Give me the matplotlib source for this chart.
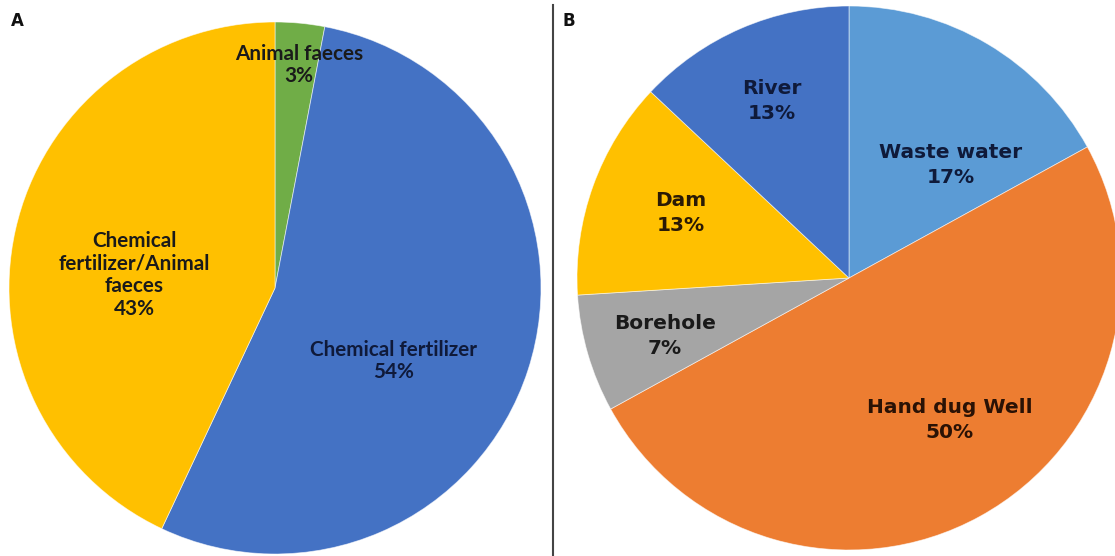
import matplotlib
matplotlib.use("Agg")
import matplotlib.pyplot as plt
from matplotlib.lines import Line2D

# ---- data ----
a_labels = ["Animal faeces", "Chemical fertilizer", "Chemical\nfertilizer/Animal\nfaeces"]
a_values = [3, 54, 43]
b_labels = ["Waste water", "Hand dug Well", "Borehole", "Dam", "River"]
b_values = [17, 50, 7, 13, 13]

# ---- style / layout ----
a_colors = ["#70AD47", "#4472C4", "#FFC000"]
b_colors = ["#5B9BD5", "#ED7D31", "#A5A5A5", "#FFC000", "#4472C4"]
a_label_pos = [(0.090, 0.838), (0.447, -0.274), (-0.530, 0.050)]
b_label_pos = [(0.375, 0.415), (0.371, -0.522), (-0.676, -0.213), (-0.618, 0.239), (-0.283, 0.650)]
a_text_colors = ["#1a1a1a", "#0f1a3a", "#1a1a1a"]
b_text_colors = ["#0f1a3a", "#2a1205", "#1a1a1a", "#2a1a05", "#0f1a3a"]

W, H = 1115, 556
fig = plt.figure(figsize=(W / 100, H / 100), dpi=100)
fig.patch.set_facecolor("white")


def px_axes(cx, cy, r):
    return fig.add_axes([(cx - r) / W, (H - cy - r) / H, 2 * r / W, 2 * r / H])


axA = px_axes(275, 288, 266)
axB = px_axes(849, 278, 272)

for ax, vals, cols in [(axA, a_values, a_colors), (axB, b_values, b_colors)]:
    ax.pie(vals, colors=cols, startangle=90, counterclock=False, radius=1,
           wedgeprops=dict(linewidth=0.6, edgecolor=(1, 1, 1, 0.6)))
    ax.set_xlim(-1, 1)
    ax.set_ylim(-1, 1)
    ax.axis("off")
    for p in ax.patches:
        p.set_clip_on(False)

for lab, v, (x, y), c in zip(a_labels, a_values, a_label_pos, a_text_colors):
    axA.text(x, y, f"{lab}\n{v}%", ha="center", va="center", fontsize=14.9,
             fontweight="bold", family=["Lato", "DejaVu Sans"], color=c,
             linespacing=1.17, clip_on=False)

for lab, v, (x, y), c in zip(b_labels, b_values, b_label_pos, b_text_colors):
    axB.text(x, y, f"{lab}\n{v}%", ha="center", va="center", fontsize=14.5,
             fontweight="bold", family=["DejaVu Sans"], color=c,
             linespacing=1.42, clip_on=False)

fig.text(17 / W, 1 - 21 / H, "A", ha="center", va="center", fontsize=12,
         fontweight="bold", color="#111111")
fig.text(569 / W, 1 - 21 / H, "B", ha="center", va="center", fontsize=12,
         fontweight="bold", color="#111111")

fig.add_artist(Line2D([553 / W, 553 / W], [0, 1 - 5 / H], transform=fig.transFigure,
                      color="#444444", linewidth=1.5))

fig.savefig("out.png", dpi=100, facecolor="white")
